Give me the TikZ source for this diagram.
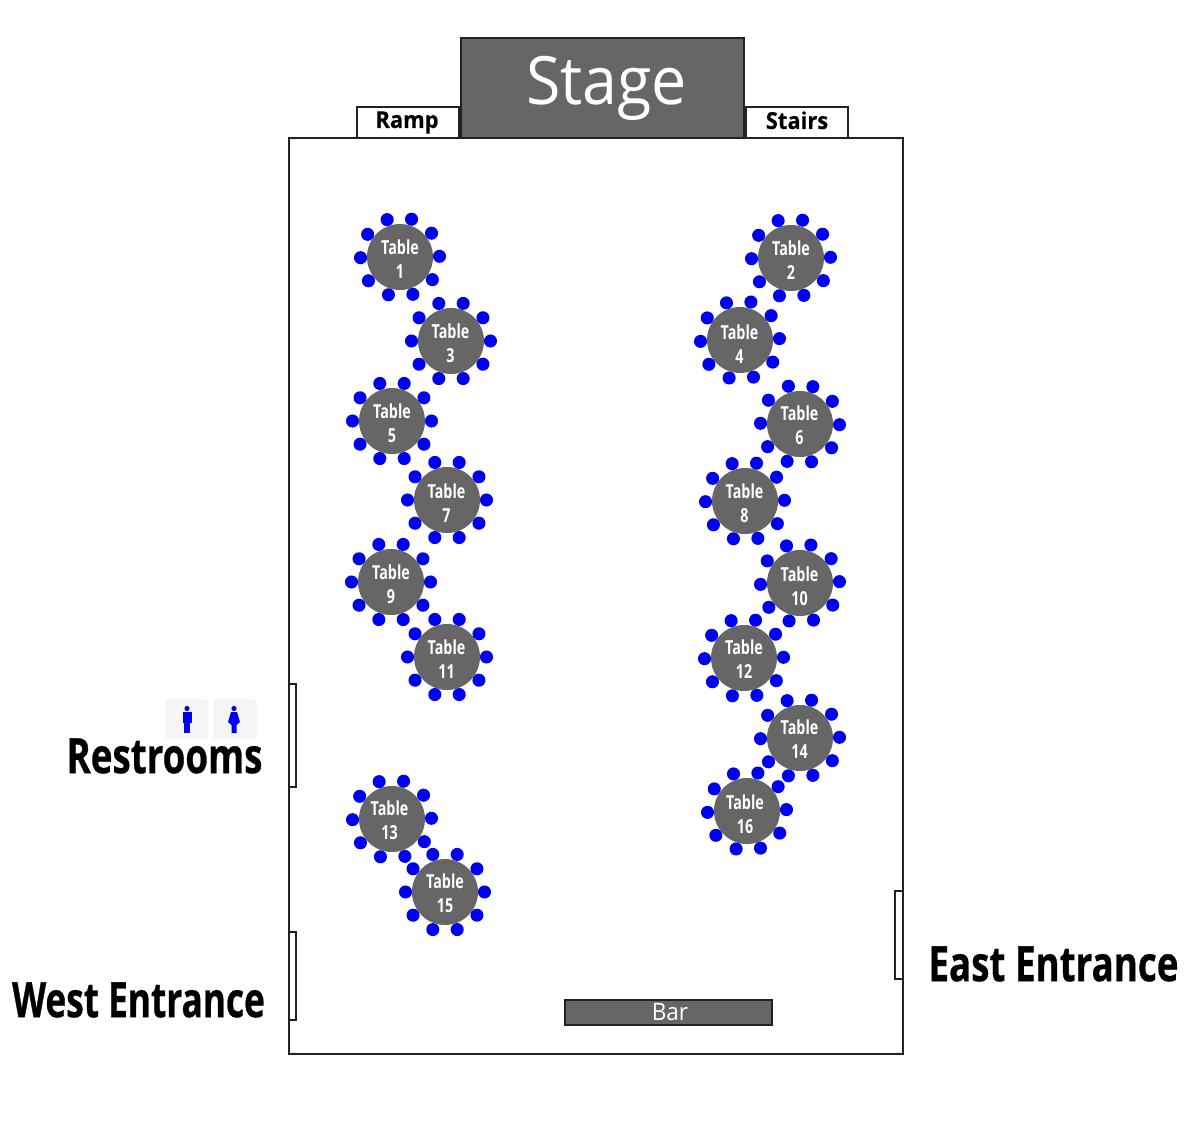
\documentclass[tikz,border=0pt]{standalone}
\usepackage{fontspec}
\setmainfont{Open Sans}
\newfontfamily\bigf[FakeStretch=0.755,FakeBold=0.6,UprightFont=* Bold]{Open Sans}
\newfontfamily\smallf[FakeStretch=0.94,FakeBold=0.4,UprightFont=* Bold]{Open Sans}
\newfontfamily\tablef[FakeStretch=0.74]{Open Sans}
\newfontfamily\reg[FakeStretch=0.94]{Open Sans}
\usetikzlibrary{calc}
\definecolor{slate}{HTML}{666666}
\definecolor{chair}{HTML}{0000F0}
\definecolor{edge}{HTML}{222222}
\tikzset{
  x=0.75pt,y=-0.75pt,
  wall/.style={draw=edge,line width=1.5pt,fill=white},
  darkbox/.style={draw=edge,line width=1.5pt,fill=slate},
  chairdot/.style={circle,fill=chair,inner sep=0pt,minimum size=9.8pt},
  roundtable/.style={circle,fill=slate,inner sep=0pt,minimum size=49.5pt},
  tabletext/.style={inner sep=0pt,text=white,align=center,font=\tablef\bfseries\fontsize{14.5}{18}\selectfont},
  biglabel/.style={inner sep=0pt,text=black,font=\bigf\fontsize{36.5}{36.5}\selectfont},
  tinylabel/.style={inner sep=0pt,anchor=base,text=black,font=\smallf\fontsize{17.5}{17.5}\selectfont},
  iconbox/.style={rounded corners=1.5pt,fill=black!4,draw=black!7,line width=0.4pt},
  figure/.style={fill=chair,draw=none},
}
\newcommand{\placetable}[6]{%
  \foreach \a in {0,36,...,324}{\node[chairdot] at ($(#2,#3)+(\a+#4:39.5 and -39.5)$) {};}
  \node[roundtable] (t#1) at (#2,#3) {};
  \node[tabletext] (l#1) at (#5,#6) {Table\\#1};
}
\begin{document}
\begin{tikzpicture}
\useasboundingbox (0,0) rectangle (1200,1123);
% hall
\draw[wall] (289,138) rectangle (903,1054);
\draw[wall] (357,107) rectangle (459,138);
\draw[wall] (746,107) rectangle (848,138);
\draw[darkbox] (461,38) rectangle (744,138);
\node[text=white,inner sep=0pt,anchor=base,font=\reg\fontsize{50}{50}\selectfont] (stage) at (606.5,105) {Stage};
\node[tinylabel] (ramp) at (407,128) {Ramp};
\node[tinylabel] (stairs) at (797,129) {Stairs};
% doors
\draw[wall] (289,684) rectangle (296,787);
\draw[wall] (289,932) rectangle (296,1020);
\draw[wall] (895,891) rectangle (903,979);
% bar
\draw[darkbox] (565,1000) rectangle (772,1025);
\node[text=white,inner sep=0pt,font=\reg\fontsize{18}{18}\selectfont] (bar) at (670,1012.5) {Bar};
% labels
\node[biglabel] (rest) at (164.5,756) {Restrooms};
\node[biglabel,xscale=0.958] (west) at (138.5,1000) {West Entrance};
\node[biglabel] (east) at (1053.5,964) {East Entrance};
% restroom icons
\draw[iconbox] (166,700) rectangle (208,738);
\draw[iconbox] (214,700) rectangle (256,738);
\fill[figure] (187,708.5) circle (2.6);
\fill[figure] (182.5,712) rectangle (191.5,722.5);
\fill[figure] (184,722) rectangle (190,733);
\fill[figure] (234,708.5) circle (2.6);
\fill[figure] (231,712) -- (237,712) -- (240,722) -- (236.5,725) -- (236.5,733) -- (231.5,733) -- (231.5,725) -- (228,722) -- cycle;
% tables: number, centre x, y, rotation, text x, y
\placetable{1}{400}{257}{1}{400}{259.5}
\placetable{2}{791}{258}{1}{791}{260}
\placetable{3}{451}{341}{0}{450.5}{343.5}
\placetable{4}{740}{340}{2}{739.5}{344.5}
\placetable{5}{392}{421}{0}{392}{423}
\placetable{6}{800}{424}{-1}{799.5}{425}
\placetable{7}{447}{500}{0}{446.5}{503.5}
\placetable{8}{745}{501}{1}{744.5}{503.5}
\placetable{9}{391}{582}{0}{391}{584.5}
\placetable{10}{800}{583}{2}{799.5}{586}
\placetable{11}{447}{657}{0}{446.5}{659}
\placetable{12}{744}{658}{1}{744}{659.5}
\placetable{13}{392}{819}{1}{389.5}{820}
\placetable{14}{800}{738}{1}{799.5}{739}
\placetable{15}{445}{892}{0}{445}{893}
\placetable{16}{747}{811}{2}{745}{814}
\end{tikzpicture}
\end{document}
